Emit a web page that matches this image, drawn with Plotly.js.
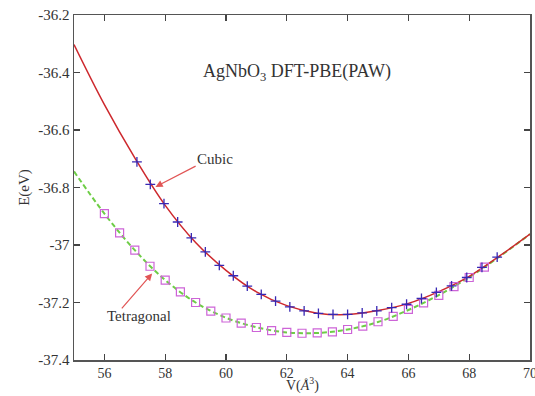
<!DOCTYPE html>
<html>
<head>
<meta charset="utf-8">
<script src="https://cdn.plot.ly/plotly-3.0.1.min.js"></script>
<style>html,body{margin:0;padding:0;background:#fff;}#chart{width:535px;height:396px;}</style>
</head>
<body>
<div id="chart"></div>
<script>
// Cubic phase: computed points
var cubicV = [57.07, 57.51, 57.96, 58.41, 58.86, 59.32, 59.78, 60.24, 60.70, 61.16, 61.63, 62.10, 62.57,
              63.04, 63.52, 64.00, 64.48, 64.96, 65.45, 65.94, 66.43, 66.92, 67.42, 67.92, 68.42, 68.92];
var cubicE = [-36.711, -36.789, -36.856, -36.920, -36.975, -37.024, -37.071, -37.107, -37.143, -37.172, -37.195, -37.215, -37.229,
              -37.238, -37.241, -37.241, -37.236, -37.229, -37.218, -37.206, -37.186, -37.165, -37.142, -37.113, -37.078, -37.042];
// Tetragonal phase: computed points
var tetV = [56, 56.5, 57, 57.5, 58, 58.5, 59, 59.5, 60, 60.5, 61, 61.5, 62,
            62.5, 63, 63.5, 64, 64.5, 65, 65.5, 66, 66.5, 67, 67.5, 68, 68.5];
var tetE = [-36.891, -36.958, -37.018, -37.074, -37.122, -37.163, -37.200, -37.230, -37.254, -37.272, -37.287, -37.298, -37.304,
            -37.307, -37.306, -37.302, -37.294, -37.282, -37.267, -37.248, -37.224, -37.201, -37.175, -37.145, -37.113, -37.077];
// Fitted curves
var fitV = [55, 56, 57, 58, 59, 60, 61, 62, 63, 64, 65, 66, 67, 68, 69, 70];
var cubicFitE = [-36.303, -36.512, -36.697, -36.862, -36.991, -37.088, -37.163, -37.211, -37.237, -37.242, -37.228, -37.203, -37.162, -37.109, -37.038, -36.962];
var tetFitE = [-36.744, -36.891, -37.018, -37.122, -37.200, -37.253, -37.286, -37.304, -37.306, -37.294, -37.268, -37.226, -37.174, -37.112, -37.040, -36.962];
// Tick labels
var xTickVals = [56, 58, 60, 62, 64, 66, 68, 70];
var xTickText = ["56", "58", "60", "62", "64", "66", "68", "70"];
var yTickVals = [-37.4, -37.2, -37.0, -36.8, -36.6, -36.4, -36.2];
var yTickText = ["-37.4", "-37.2", "-37", "-36.8", "-36.6", "-36.4", "-36.2"];

var serif = "Liberation Serif, Times New Roman, serif";
var arrowCol = "rgb(225,85,85)";

var traces = [
  {x: fitV, y: tetFitE, mode: "lines", line: {color: "rgb(110,205,70)", width: 2, dash: "5px,3px", shape: "spline", smoothing: 1}, hoverinfo: "skip"},
  {x: fitV, y: cubicFitE, mode: "lines", line: {color: "rgb(205,40,45)", width: 1.5, shape: "spline", smoothing: 1}, hoverinfo: "skip"},
  {x: tetV, y: tetE, mode: "markers", marker: {symbol: "square-open", size: 8, color: "rgb(205,100,215)", line: {width: 1.2}}},
  {x: cubicV, y: cubicE, mode: "markers", marker: {symbol: "cross-thin-open", size: 7, color: "rgb(55,40,180)", line: {width: 1.3, color: "rgb(55,40,180)"}}}
];

var layout = {
  width: 535, height: 396,
  margin: {l: 74, r: 5, t: 15, b: 36},
  paper_bgcolor: "#fff", plot_bgcolor: "#fff",
  showlegend: false,
  font: {family: serif, size: 15, color: "#333"},
  xaxis: {
    range: [55, 70], tickvals: xTickVals, ticktext: xTickText, ticklabeloverflow: "allow",
    ticks: "inside", ticklen: 6, tickwidth: 1.2, tickcolor: "#444",
    showline: true, linecolor: "#555", linewidth: 1.5, mirror: "allticks",
    showgrid: false, zeroline: false,
    tickfont: {family: serif, size: 14, color: "#333"}
  },
  yaxis: {
    range: [-37.4, -36.2], tickvals: yTickVals, ticktext: yTickText,
    ticks: "inside", ticklen: 6, tickwidth: 1.2, tickcolor: "#444",
    showline: true, linecolor: "#555", linewidth: 1.5, mirror: "allticks",
    showgrid: false, zeroline: false,
    tickfont: {family: serif, size: 15, color: "#333"},
    title: {text: "E(eV)", font: {family: serif, size: 15, color: "#333"}, standoff: 5}
  },
  annotations: [
    {x: 0.5, y: -0.1, xref: "paper", yref: "paper", xanchor: "center", yanchor: "bottom", borderpad: 0,
     text: "V(<i>Å</i><sup>3</sup>)", showarrow: false, font: {family: serif, size: 14, color: "#333"}},
    {x: 62.35, y: -36.40, xref: "x", yref: "y", text: "AgNbO<sub>3</sub> DFT-PBE(PAW)", showarrow: false,
     font: {family: serif, size: 18, color: "#333"}},
    {x: 59.65, y: -36.702, xref: "x", yref: "y", text: "Cubic", showarrow: false,
     font: {family: serif, size: 15, color: "#333"}},
    {x: 57.68, y: -36.798, ax: 59.05, ay: -36.723, xref: "x", yref: "y", axref: "x", ayref: "y",
     text: "", showarrow: true, arrowhead: 2, arrowsize: 1.2, arrowwidth: 1.2, arrowcolor: arrowCol, standoff: 0},
    {x: 57.14, y: -37.247, xref: "x", yref: "y", text: "Tetragonal", showarrow: false,
     font: {family: serif, size: 15, color: "#333"}},
    {x: 57.57, y: -37.099, ax: 56.53, ay: -37.226, xref: "x", yref: "y", axref: "x", ayref: "y",
     text: "", showarrow: true, arrowhead: 2, arrowsize: 1.2, arrowwidth: 1.2, arrowcolor: arrowCol, standoff: 0}
  ]
};

Plotly.newPlot("chart", traces, layout, {staticPlot: true, displayModeBar: false});
</script>
</body>
</html>
